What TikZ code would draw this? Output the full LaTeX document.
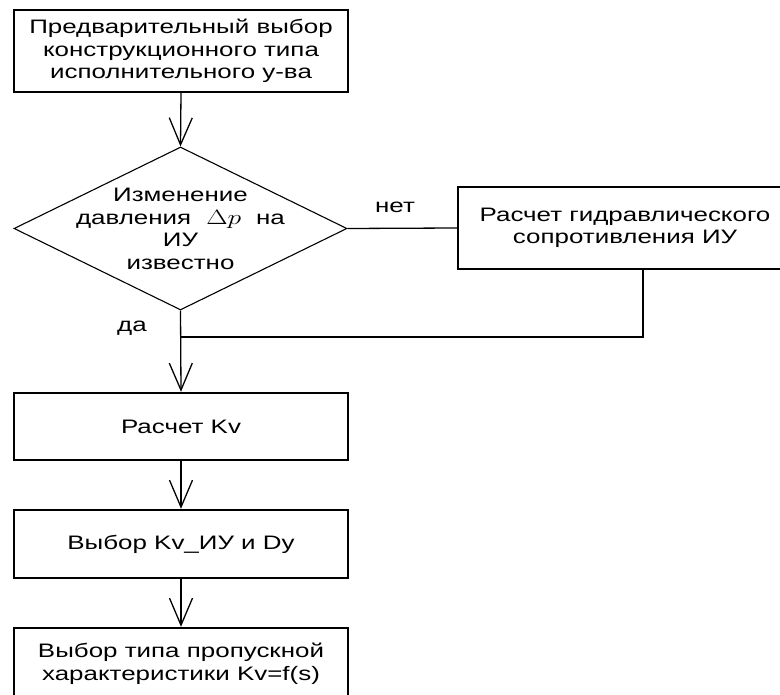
\documentclass[tikz,border=0pt]{standalone}
\usepackage{graphicx}
\usepackage{fontspec}
\setmainfont[FakeStretch=1.33]{Liberation Sans}
\usetikzlibrary{shapes.geometric,arrows.meta}
\begin{document}
\begin{tikzpicture}[x=1pt,y=-1pt,
  every node/.style={font=\fontsize{19.5}{22.5}\selectfont, align=center, inner sep=0pt},
  stepbox/.style={draw, line width=2.4pt, minimum width=334pt},
  decision/.style={draw, diamond, line width=1.1pt, minimum width=333pt, minimum height=163pt},
  flow/.style={line width=1.3pt, -{Straight Barb[length=27pt,width=23pt,line width=1.3pt]}},
  plain/.style={line width=1.3pt},
  back/.style={line width=2.6pt}]
  \clip (0,0) rectangle (780,695);
  \fill[white] (0,0) rectangle (780,695);

  % blocks
  \node[stepbox, minimum height=82pt] (top) at (181,51)
    {Предварительный выбор\\конструкционного типа\\исполнительного у-ва};
  \node[decision] (dia) at (180.5,228.5) {};
  \node (diatext) at (180.5,229)
    {Изменение\\давления\hspace{15pt}\scalebox{1.33}[1]{\fontsize{20}{22}\selectfont$\Delta p$}\hspace{15pt}на\\ИУ\\известно};
  \node[stepbox, minimum height=82pt] (calc) at (625,228)
    {Расчет гидравлического\\сопротивления ИУ};
  \node[stepbox, minimum height=67pt] (kv) at (181,426.5) {Расчет Kv};
  \node[stepbox, minimum height=68pt] (sel) at (181,544) {Выбор Kv\_ИУ и Dy};
  \node[stepbox, minimum height=72pt] (typ) at (181,664)
    {Выбор типа пропускной\\характеристики Kv=f(s)};

  % connectors
  \draw[flow] (top.south) -- (dia.north);
  \draw[plain] (dia.east) -- (calc.west);
  \node[anchor=base] (no) at (395,213) {нет};

  \coordinate (ret) at (643,337);
  \coordinate (join) at (dia.south |- ret);
  \draw[back] (ret |- calc.south) -- (ret) -- (join);
  \draw[flow] (dia.south) -- (kv.north);
  \node[anchor=base] (yes) at (132,332) {да};

  \draw[flow] (kv.south) -- (sel.north);
  \draw[flow] (sel.south) -- (typ.north);
\end{tikzpicture}
\end{document}
